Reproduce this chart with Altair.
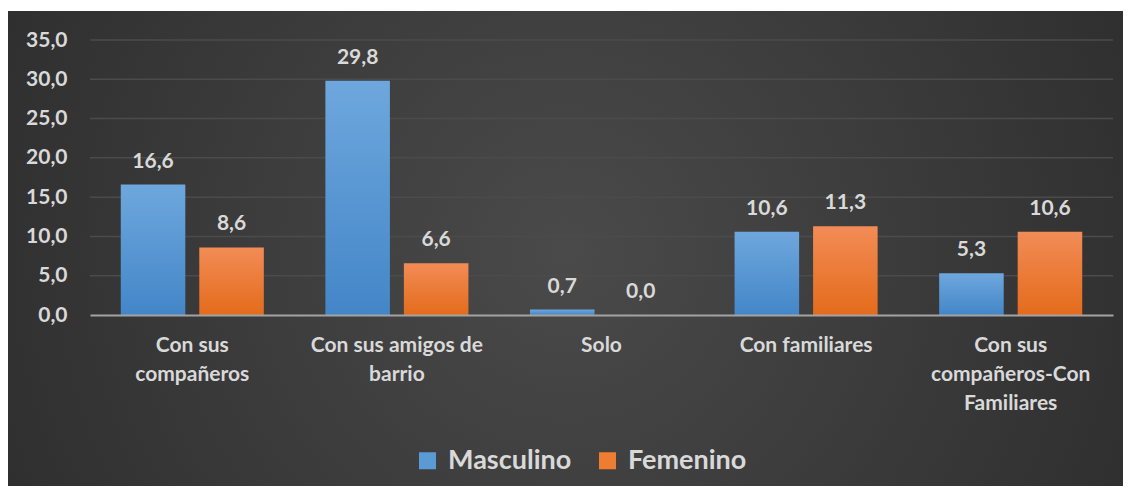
import altair as alt
import pandas as pd

# ---- data ----
categories = ["Con sus compañeros", "Con sus amigos de barrio", "Solo",
              "Con familiares", "Con sus compañeros-Con Familiares"]
label_lines = [["Con sus", "compañeros"], ["Con sus amigos de", "barrio"], ["Solo"],
               ["Con familiares"], ["Con sus", "compañeros-Con", "Familiares"]]
series = ["Masculino", "Femenino"]
masculino = [16.6, 29.8, 0.7, 10.6, 5.3]
femenino = [8.6, 6.6, 0.0, 11.3, 10.6]
y_ticks = [0, 5, 10, 15, 20, 25, 30, 35]

rows = []
for c, m, f in zip(categories, masculino, femenino):
    rows.append({"cat": c, "serie": "Masculino", "val": m})
    rows.append({"cat": c, "serie": "Femenino", "val": f})
df = pd.DataFrame(rows)

FONT = "Lato"
TXT = "#d9d9d9"

# multi-line x labels
parts = []
for c, lines in zip(categories, label_lines):
    arr = "[" + ",".join("'" + l + "'" for l in lines) + "]"
    parts.append(f"datum.value == '{c}' ? {arr}")
x_label_expr = " : ".join(parts) + " : datum.value"

num_expr = "replace(format(datum.value, '.1f'), '.', ',')"

x_enc = alt.X("cat:N", sort=categories, title=None,
              scale=alt.Scale(domain=categories, paddingInner=0, paddingOuter=0),
              axis=alt.Axis(labelAngle=0, labelFont=FONT, labelFontSize=21, labelFontWeight="bold",
                            labelColor=TXT, labelLineHeight=29, labelPadding=19,
                            labelExpr=x_label_expr, ticks=False, grid=False,
                            domainColor="#a3a3a3", domainWidth=2, zindex=1))
xo_enc = alt.XOffset("serie:N", sort=series,
                     scale=alt.Scale(domain=series, paddingInner=0.178, paddingOuter=0.392))
y_scale = alt.Scale(domain=[0, 35], nice=False)
y_axis = alt.Axis(values=y_ticks, labelExpr=num_expr, labelFont=FONT, labelFontSize=21,
                  labelFontWeight="bold", labelColor=TXT, labelPadding=23,
                  ticks=False, domain=False, grid=False, zindex=1, title=None)
y_enc = alt.Y("val:Q", title=None, scale=y_scale, axis=y_axis)

W, H = 1023, 275
PL, PT, PR, PB = 82, 32, 10, 171

bg = alt.Chart(pd.DataFrame({"a": [0]})).mark_rect(
    fill=alt.RadialGradient(gradient="radial",
                            stops=[alt.GradientStop(offset=0, color="#4a4a4a"),
                                   alt.GradientStop(offset=1, color="#252525")],
                            x1=0.5, y1=0.5, r1=0, x2=0.5, y2=0.5, r2=0.75)
).encode(x=alt.value(-PL), x2=alt.value(W + PR + 2), y=alt.value(3 - PT), y2=alt.value(H + PB + 2))

grid = alt.Chart(pd.DataFrame({"val": y_ticks[1:]})).mark_rule(color="#4b4b4b", strokeWidth=1.5).encode(
    y=y_enc)

def grad(top, bottom):
    return alt.LinearGradient(gradient="linear",
                              stops=[alt.GradientStop(offset=0, color=top),
                                     alt.GradientStop(offset=1, color=bottom)],
                              x1=0, x2=0, y1=0, y2=1)

bars_m = alt.Chart(df).transform_filter(alt.datum.serie == "Masculino").mark_bar(
    fill=grad("#6ea7dd", "#4386c8")).encode(x=x_enc, xOffset=xo_enc, y=y_enc)
bars_f = alt.Chart(df).transform_filter(alt.datum.serie == "Femenino").mark_bar(
    fill=grad("#f28c56", "#e46b1b")).encode(x=x_enc, xOffset=xo_enc, y=y_enc)

labels = alt.Chart(df).transform_calculate(
    lab="replace(format(datum.val, '.1f'), '.', ',')"
).mark_text(font=FONT, fontSize=21, fontWeight="bold", color=TXT, baseline="alphabetic", dy=-17).encode(
    x=x_enc, xOffset=xo_enc, y=y_enc, text="lab:N")

legend_layer = alt.Chart(df).mark_square(opacity=0, size=0).encode(
    x=x_enc, xOffset=xo_enc, y=y_enc,
    color=alt.Color("serie:N", sort=series,
                    scale=alt.Scale(domain=series, range=["#5b9bd5", "#ed7d31"]),
                    legend=alt.Legend(title=None, orient="none", legendX=324, legendY=407,
                                      direction="horizontal", symbolType="square", symbolSize=289,
                                      symbolOpacity=1, symbolStrokeWidth=0,
                                      labelFont=FONT, labelFontSize=27, labelFontWeight="bold",
                                      labelColor=TXT, labelOffset=7, columnPadding=22)))

chart = alt.layer(bg, grid, bars_m, bars_f, labels, legend_layer).properties(
    width=W, height=H,
    autosize=alt.AutoSizeParams(type="none"),
    padding={"left": PL, "top": PT, "right": PR, "bottom": PB},
    background="white",
).configure_view(stroke=None)

chart.save("out.html", embed_options={"renderer": "svg", "actions": False})
